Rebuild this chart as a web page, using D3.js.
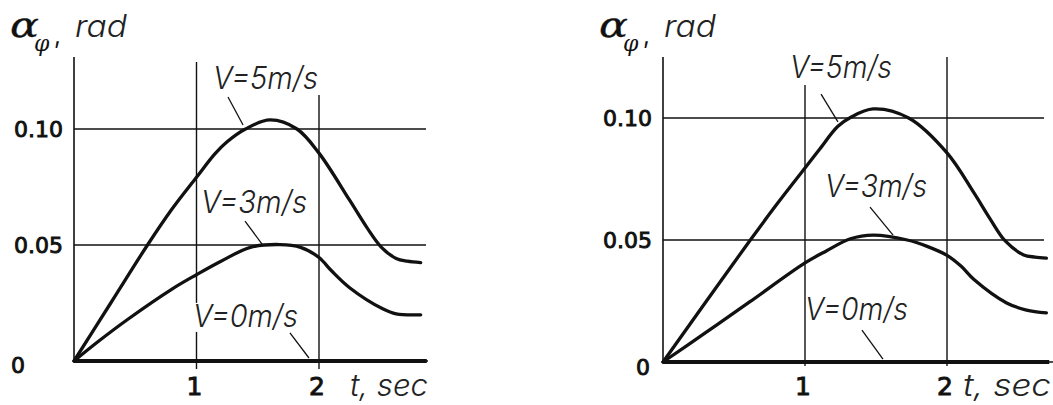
<!DOCTYPE html>
<html><head><meta charset="utf-8">
<script src="https://cdn.jsdelivr.net/npm/d3@7/dist/d3.min.js"></script>
<style>html,body{margin:0;padding:0;background:#fff;} svg{display:block}</style>
</head><body>
<svg id="chart" width="1053" height="405"></svg>
<script>
// ---------- DATA ----------
// Left panel
const leftT5 = [0, 0.3, 0.6, 0.8, 1.0, 1.15, 1.25, 1.4, 1.6, 1.82, 2.0, 2.25, 2.39, 2.51, 2.63, 2.72, 2.83];
const leftV5 = [0, 0.025, 0.05, 0.0655, 0.0792, 0.0893, 0.0945, 0.1, 0.1039, 0.1, 0.0896, 0.0693, 0.0576, 0.049, 0.0442, 0.043, 0.0424];
const leftT3 = [0, 0.2, 0.44, 0.8, 1.0, 1.2, 1.44, 1.68, 1.85, 2.0, 2.1, 2.25, 2.52, 2.63, 2.83];
const leftV3 = [0, 0.0085, 0.018, 0.031, 0.0372, 0.043, 0.049, 0.0502, 0.049, 0.0446, 0.039, 0.0316, 0.0225, 0.0203, 0.0199];
const leftT0 = [0, 2.88];
const leftV0 = [0, 0];
// Right panel
const rightT5 = [0, 0.3, 0.61, 0.8, 1.0, 1.1, 1.23, 1.32, 1.48, 1.73, 2.0, 2.19, 2.30, 2.41, 2.54, 2.62, 2.70];
const rightV5 = [0, 0.0245, 0.0496, 0.0645, 0.0795, 0.087, 0.0965, 0.1002, 0.1037, 0.1, 0.0857, 0.0693, 0.059, 0.0496, 0.0439, 0.043, 0.0426];
const rightT3 = [0, 0.3, 0.61, 1.0, 1.15, 1.32, 1.48, 1.72, 1.86, 2.0, 2.1, 2.19, 2.42, 2.56, 2.70];
const rightV3 = [0, 0.012, 0.0246, 0.0406, 0.0455, 0.0505, 0.052, 0.050, 0.0474, 0.0437, 0.0392, 0.0338, 0.0242, 0.0213, 0.0201];
const rightT0 = [0, 2.72];
const rightV0 = [0, 0];
// Ticks and labels
const yTicks = [0.05, 0.10];
const yTickLabels = ["0.05", "0.10"];
const zeroLabel = "0";
const xTicks = [1, 2];
const xTickLabels = ["1", "2"];
const seriesNames = ["V=5m/s", "V=3m/s", "V=0m/s"];
const yTitleMain = "α", yTitleSub = "φ", yTitleUnit = "rad";
const xTitle = "t, sec";

// ---------- LAYOUT ----------
const panels = [
  { xr:[74,319], yr:[361,129], axisTop:57, gridTops:[62,95], gridBottom:369, hEnd:426, baseEnd:428,
    T5:leftT5, V5:leftV5, T3:leftT3, V3:leftV3, T0:leftT0, V0:leftV0,
    zeroX:-49, zeroDy:12, xTitleX:350, xTitleLen:78,
    labels:[ {pos:[1.135,0.1172], len:105, lead:[[1.257,0.1138],[1.380,0.1017]]},
             {pos:[1.037,0.0638], len:106, lead:[[1.396,0.0603],[1.535,0.0504]]},
             {pos:[0.971,0.0147], len:105, lead:[[1.763,0.0121],[1.918,0.0013]]} ] },
  { xr:[663,947], yr:[362,118], axisTop:57, gridTops:[85,57], gridBottom:366, hEnd:1044, baseEnd:1053,
    T5:rightT5, V5:rightV5, T3:rightT3, V3:rightV3, T0:rightT0, V0:rightV0,
    zeroX:-13, zeroDy:13, xTitleX:963, xTitleLen:88,
    labels:[ {pos:[0.894,0.1164], len:102, lead:[[1.113,0.1098],[1.232,0.0984]]},
             {pos:[1.141,0.0676], len:102, lead:[[1.458,0.0635],[1.620,0.0520]]},
             {pos:[1.0,0.0172],  len:103, lead:[[1.401,0.0131],[1.549,0.0012]]} ] }
];

const INK = "#111";
const gostFont = "Inter, 'DejaVu Sans', sans-serif";
const tickFont = "'DejaVu Sans', sans-serif";
const svg = d3.select("#chart");

panels.forEach(p => {
  const x = d3.scaleLinear().domain([0,2]).range(p.xr);
  const y = d3.scaleLinear().domain([0,0.1]).range(p.yr);
  const g = svg.append("g");

  g.selectAll(".hg").data(yTicks).join("line")
    .attr("x1", x(0)).attr("x2", p.hEnd)
    .attr("y1", d => y(d)).attr("y2", d => y(d))
    .attr("stroke", INK).attr("stroke-width", 1.4);
  g.append("line").attr("x1", x(0)).attr("x2", p.baseEnd)
    .attr("y1", y(0)).attr("y2", y(0)).attr("stroke", INK).attr("stroke-width", 1.6);
  g.selectAll(".vg").data(xTicks).join("line")
    .attr("x1", d => x(d)).attr("x2", d => x(d))
    .attr("y1", (d,i) => p.gridTops[i]).attr("y2", p.gridBottom)
    .attr("stroke", INK).attr("stroke-width", 1.4);
  g.append("line").attr("x1", x(0)).attr("x2", x(0))
    .attr("y1", p.axisTop).attr("y2", y(0)).attr("stroke", INK).attr("stroke-width", 1.6);

  const line = d3.line().x(d => x(d[0])).y(d => y(d[1])).curve(d3.curveCatmullRom.alpha(0.5));
  const s5 = p.T5.map((t,i) => [t, p.V5[i]]);
  const s3 = p.T3.map((t,i) => [t, p.V3[i]]);
  const s0 = p.T0.map((t,i) => [t, p.V0[i]]);
  [s5, s3].forEach(s => g.append("path").attr("d", line(s)).attr("fill","none")
     .attr("stroke", INK).attr("stroke-width", 3.3).attr("stroke-linejoin","round").attr("stroke-linecap","round"));
  g.append("path").attr("d", d3.line().x(d => x(d[0])).y(d => y(d[1]))(s0))
    .attr("fill","none").attr("stroke", INK).attr("stroke-width", 4);

  p.labels.forEach((L, i) => {
    const lg = g.append("g");
    const bg = lg.append("rect").attr("fill", "#fff");
    const tx = lg.append("text").text(seriesNames[i])
      .attr("x", x(L.pos[0])).attr("y", y(L.pos[1]))
      .attr("font-family", gostFont).attr("font-weight", 300).attr("font-style","italic")
      .attr("font-size", 31).attr("fill", "#222")
      .attr("textLength", L.len).attr("lengthAdjust", "spacingAndGlyphs");
    const bb = tx.node().getBBox();
    bg.attr("x", bb.x+2).attr("y", bb.y+6).attr("width", bb.width-4).attr("height", bb.height-8);
    g.append("line")
      .attr("x1", x(L.lead[0][0])).attr("y1", y(L.lead[0][1]))
      .attr("x2", x(L.lead[1][0])).attr("y2", y(L.lead[1][1]))
      .attr("stroke", INK).attr("stroke-width", 1.3);
  });

  g.selectAll(".yl").data(yTicks).join("text")
    .attr("x", x(0) - 11).attr("y", d => y(d) + 8)
    .attr("text-anchor", "end").attr("font-family", tickFont).attr("font-size", 22)
    .attr("fill", INK).attr("stroke", INK).attr("stroke-width", 0.9)
    .text((d,i) => yTickLabels[i]);
  g.append("text").attr("x", x(0) + p.zeroX).attr("y", y(0) + p.zeroDy)
    .attr("text-anchor", "end").attr("font-family", tickFont).attr("font-size", 22)
    .attr("fill", INK).attr("stroke", INK).attr("stroke-width", 0.9).text(zeroLabel);
  g.selectAll(".xl").data(xTicks).join("text")
    .attr("x", d => x(d) - 2).attr("y", 395)
    .attr("text-anchor", "middle").attr("font-family", tickFont).attr("font-size", 25)
    .attr("fill", INK).attr("stroke", INK).attr("stroke-width", 0.9)
    .text((d,i) => xTickLabels[i]);

  g.append("text").attr("x", p.xTitleX).attr("y", 396)
    .attr("font-family", gostFont).attr("font-weight", 300).attr("font-style","italic")
    .attr("font-size", 30).attr("fill", "#222")
    .attr("textLength", p.xTitleLen).attr("lengthAdjust", "spacingAndGlyphs")
    .text(xTitle);

  const ax = x(0);
  g.append("text").attr("x", ax - 64).attr("y", 37)
    .attr("font-family", "'DejaVu Serif', serif").attr("font-style", "italic")
    .attr("font-size", 36).attr("fill", INK).attr("stroke", INK).attr("stroke-width", 0.3)
    .attr("textLength", 29).attr("lengthAdjust", "spacingAndGlyphs")
    .text(yTitleMain);
  g.append("text").attr("x", ax - 40).attr("y", 51)
    .attr("font-family", "'DejaVu Serif', serif").attr("font-style", "italic")
    .attr("font-size", 22).attr("fill", INK)
    .text(yTitleSub);
  g.append("text").attr("x", ax - 20).attr("y", 44)
    .attr("font-family", gostFont).attr("font-size", 24).attr("fill", INK).text(",");
  g.append("text").attr("x", ax + 1).attr("y", 37)
    .attr("font-family", gostFont).attr("font-weight", 300).attr("font-style","italic")
    .attr("font-size", 31).attr("fill", "#222")
    .attr("textLength", 52).attr("lengthAdjust", "spacingAndGlyphs")
    .text(yTitleUnit);
});
</script>
</body></html>
